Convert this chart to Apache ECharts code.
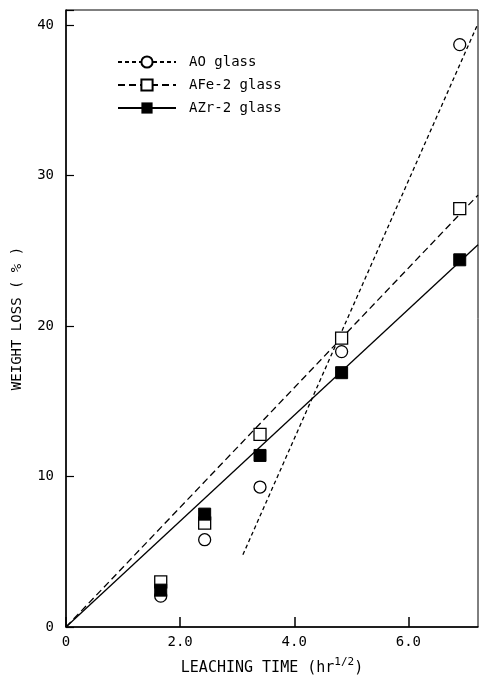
<!DOCTYPE html>
<html><head><meta charset="utf-8">
<script src="https://cdn.jsdelivr.net/npm/echarts@6/dist/echarts.min.js"></script>
<style>html,body{margin:0;padding:0;background:#fff}#c{width:480px;height:681px}</style>
</head><body><div id="c"></div>
<script>
// Data
const xTime = [1.66, 2.43, 3.40, 4.83, 6.90];           // leaching time (hr^1/2)
const aoLoss = [2.05, 5.8, 9.3, 18.3, 38.7];            // AO glass
const afeLoss = [3.0, 6.9, 12.8, 19.2, 27.8];           // AFe-2 glass
const azrLoss = [2.45, 7.5, 11.4, 16.9, 24.4];          // AZr-2 glass
const aoFitX = [3.1, 7.22], aoFitY = [4.8, 40.1];
const afeFitX = [0, 7.22], afeFitY = [0, 28.7];
const azrFitX = [0, 7.22], azrFitY = [0, 25.4];
const xTicks = [0, 2, 4, 6];
const yTicks = [0, 10, 20, 30, 40];
const names = ['AO glass', 'AFe-2 glass', 'AZr-2 glass'];

const pts = (xs, ys) => xs.map((x, i) => [x, ys[i]]);
const FONT = 'DejaVu Sans Mono';
const chart = echarts.init(document.getElementById('c'));
chart.setOption({
  animation: false,
  backgroundColor: '#fff',
  grid: { left: 66, top: 10, right: 2, bottom: 48, show: true, borderColor: '#000', borderWidth: 1 },
  legend: {
    data: names, orient: 'vertical', left: 112, top: 50,
    itemWidth: 58, itemHeight: 14, itemGap: 9,
    textStyle: { fontFamily: FONT, fontSize: 14, color: '#000', padding: [0, 0, 0, 8] },
    selectedMode: false
  },
  xAxis: {
    type: 'value', min: 0, max: 7.22, interval: 2,
    name: 'LEACHING TIME (hr{s|1/2})', nameLocation: 'middle', nameGap: 30,
    nameTextStyle: { fontFamily: FONT, fontSize: 15, color: '#000',
      rich: { s: { fontFamily: FONT, fontSize: 11, verticalAlign: 'top', padding: [0, 0, 12, 0] } } },
    axisLine: { lineStyle: { color: '#000', width: 1.5 } },
    axisTick: { inside: true, length: 10, lineStyle: { color: '#000', width: 1.5 } },
    splitLine: { show: false },
    axisLabel: { fontFamily: FONT, fontSize: 14, color: '#000', margin: 8, showMaxLabel: false,
      formatter: v => xTicks.includes(v) ? (v === 0 ? '0' : v.toFixed(1)) : '' }
  },
  yAxis: {
    type: 'value', min: 0, max: 41, interval: 10,
    name: 'WEIGHT LOSS ( % )', nameLocation: 'middle', nameGap: 42, nameRotate: 90,
    nameTextStyle: { fontFamily: FONT, fontSize: 14, color: '#000' },
    axisLine: { lineStyle: { color: '#000', width: 1.5 } },
    axisTick: { inside: true, length: 8, lineStyle: { color: '#000', width: 1.2 } },
    splitLine: { show: false },
    axisLabel: { fontFamily: FONT, fontSize: 14, color: '#000', margin: 12,
      formatter: v => yTicks.includes(v) ? String(v) : '' }
  },
  series: [
    { name: names[0], type: 'line', data: pts(aoFitX, aoFitY), symbol: 'emptyCircle', symbolSize: 12,
      showSymbol: false, z: 1, color: '#000', lineStyle: { color: '#000', width: 1.3, type: [4, 3] },
      itemStyle: { color: '#000' } },
    { name: names[1], type: 'line', data: pts(afeFitX, afeFitY), symbol: 'emptyRect', symbolSize: 12,
      showSymbol: false, z: 1, color: '#000', lineStyle: { color: '#000', width: 1.3, type: [7, 4] },
      itemStyle: { color: '#000' } },
    { name: names[2], type: 'line', data: pts(azrFitX, azrFitY), symbol: 'rect', symbolSize: 12,
      showSymbol: false, z: 1, color: '#000', lineStyle: { color: '#000', width: 1.3 },
      itemStyle: { color: '#000' } },
    { name: 'AO pts', type: 'scatter', data: pts(xTime, aoLoss), symbol: 'circle', symbolSize: 12, z: 3,
      itemStyle: { color: '#fff', borderColor: '#000', borderWidth: 1.3, opacity: 1 } },
    { name: 'AFe pts', type: 'scatter', data: pts(xTime, afeLoss), symbol: 'rect', symbolSize: 12, z: 4,
      itemStyle: { color: '#fff', borderColor: '#000', borderWidth: 1.3, opacity: 1 } },
    { name: 'AZr pts', type: 'scatter', data: pts(xTime, azrLoss), symbol: 'rect', symbolSize: 12, z: 5,
      itemStyle: { color: '#000', borderColor: '#000', borderWidth: 1, opacity: 1 } }
  ]
});
</script></body></html>
